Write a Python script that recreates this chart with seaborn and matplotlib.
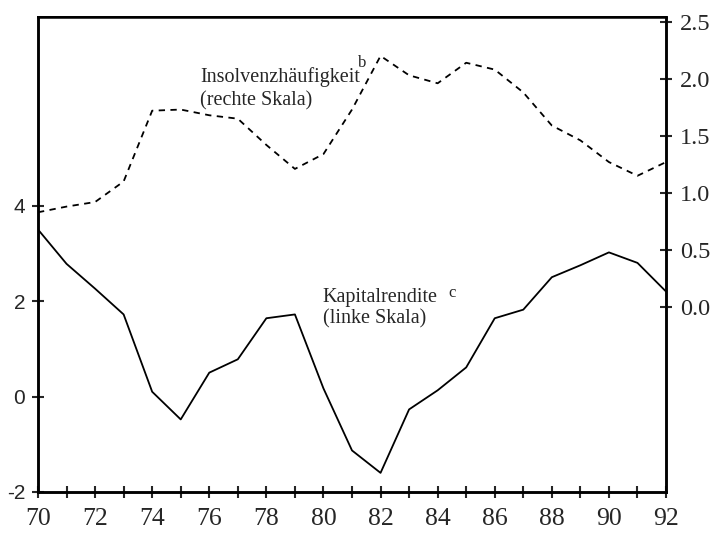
import numpy as np
import pandas as pd
import seaborn as sns
import matplotlib
from matplotlib import pyplot as plt

matplotlib.use("Agg")

sns.set_style("white")
plt.rcParams['font.family'] = ['Liberation Serif', 'DejaVu Serif']
plt.rc('axes', unicode_minus=False)

years = list(range(70, 93))
kapitalrendite = [3.5, 2.78, 2.26, 1.72, 0.1, -0.48, 0.5, 0.78, 1.64, 1.72, 0.17, -1.13,
                  -1.6, -0.27, 0.13, 0.61, 1.64, 1.82, 2.5, 2.75, 3.02, 2.8, 2.2]
insolvenz = [0.83, 0.88, 0.92, 1.1, 1.72, 1.73, 1.68, 1.65, 1.42, 1.21, 1.34, 1.73,
             2.2, 2.03, 1.96, 2.14, 2.08, 1.88, 1.59, 1.46, 1.27, 1.15, 1.27]

left_ticks = [-2, 0, 2, 4]
right_ticks = [0.0, 0.5, 1.0, 1.5, 2.0, 2.5]
x_labels = [70, 72, 74, 76, 78, 80, 82, 84, 86, 88, 90, 92]

df = pd.DataFrame({"jahr": years, "kapitalrendite": kapitalrendite, "insolvenz": insolvenz})

fig = plt.figure(figsize=(7.14, 5.34), dpi=100)
ax = fig.add_axes([0.0532, 0.0787, 0.8796, 0.8893])
ax2 = ax.twinx()

sns.lineplot(data=df, x="jahr", y="kapitalrendite", ax=ax, color="black", linewidth=1.3)
sns.lineplot(data=df, x="jahr", y="insolvenz", ax=ax2, color="black", linewidth=1.3,
             linestyle=(0, (3.5, 3)))

ax.set_xlim(70, 92)
ax.set_ylim(-2, 7.95)
ax2.set_ylim(-1.62, 2.54)

ax.set_xticks(years, minor=True)
ax.set_xticks(x_labels)
ax.set_xticklabels([str(v) for v in x_labels])
ax.set_yticks(left_ticks)
ax.set_yticklabels([str(v) for v in left_ticks], family=['Liberation Sans', 'DejaVu Sans'])
ax2.set_yticks(right_ticks)
ax2.set_yticklabels([f"{v:.1f}" for v in right_ticks])

ax.set_xlabel("")
ax.set_ylabel("")
ax2.set_ylabel("")

for a in (ax, ax2):
    for s in a.spines.values():
        s.set_color("black")
        s.set_linewidth(1.8)
ax.spines['top'].set_linewidth(1.4)

ax.tick_params(axis='x', which='both', direction='inout', length=8.6, width=1.5,
               labelsize=18.5, pad=7, bottom=True)
ax.tick_params(axis='y', direction='inout', length=8.6, width=1.5, labelsize=15, pad=5, left=True)
ax2.tick_params(axis='y', direction='inout', length=8.6, width=1.5, labelsize=17.5, pad=5.5, right=True)

ax.text(75.68, 6.59, "Insolvenzhäufigkeit", fontsize=14.5, ha="left", va="baseline")
ax.text(81.21, 6.9, "b", fontsize=12, ha="left", va="baseline")
ax.text(75.68, 6.09, "(rechte Skala)", fontsize=14.5, ha="left", va="baseline")
ax.text(79.98, 1.98, "Kapitalrendite", fontsize=14.5, ha="left", va="baseline")
ax.text(84.36, 2.08, "c", fontsize=12, ha="left", va="baseline")
ax.text(79.98, 1.52, "(linke Skala)", fontsize=14.5, ha="left", va="baseline")

fig.savefig("out.png", dpi=100)
